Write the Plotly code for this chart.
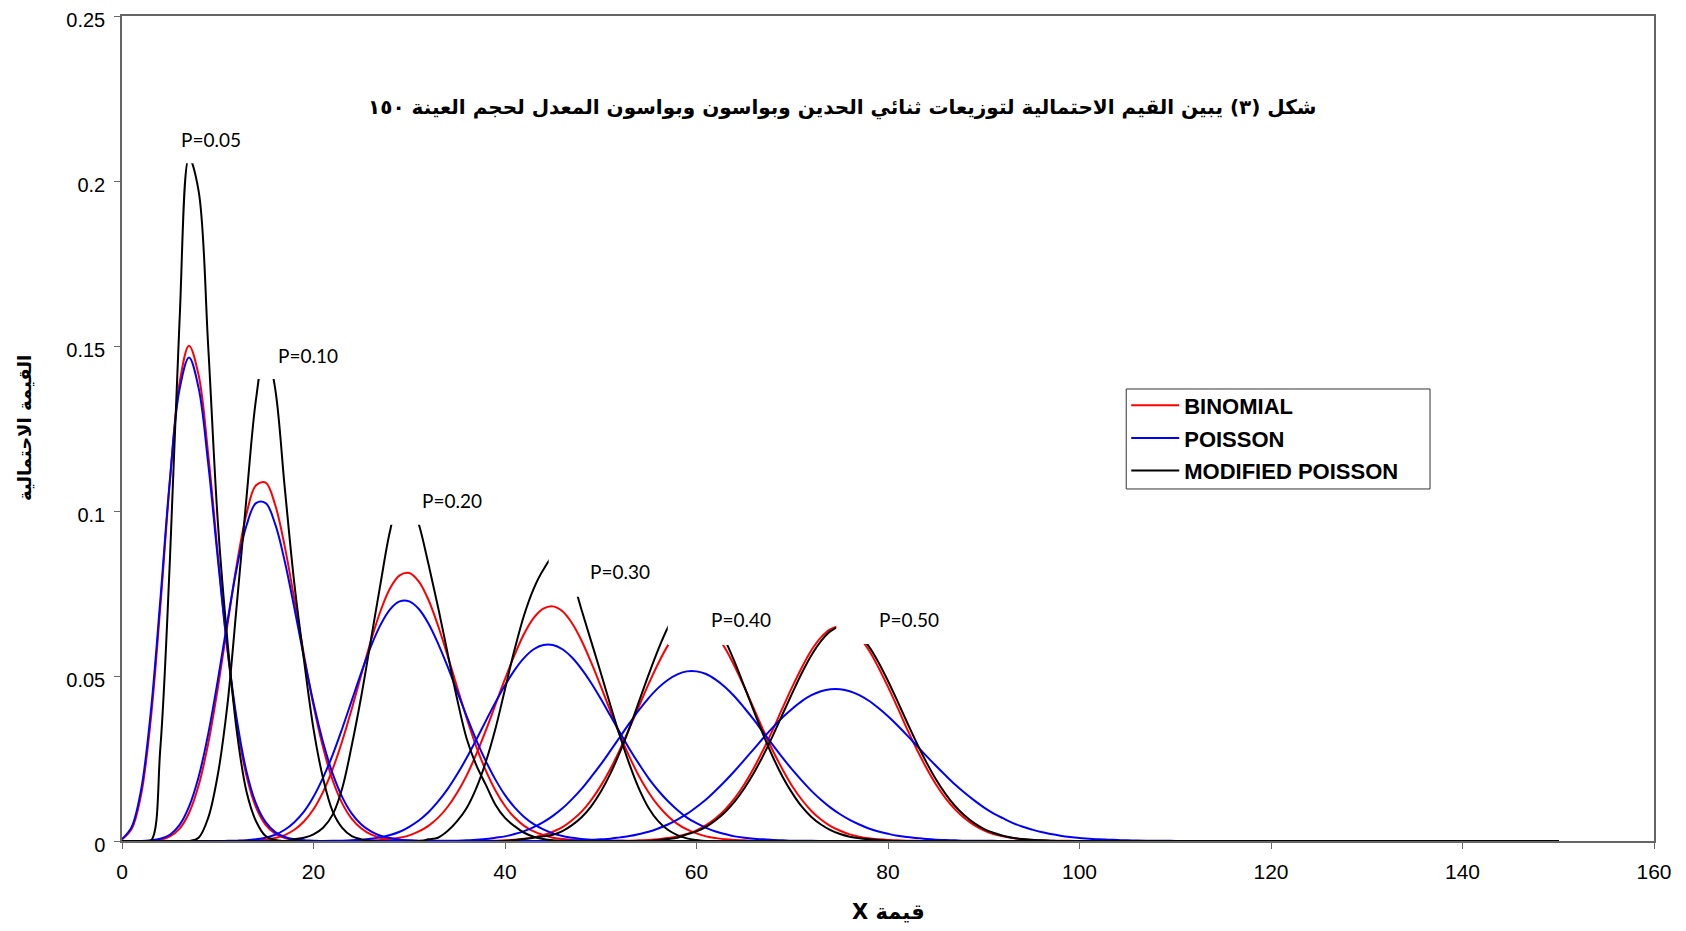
import plotly.graph_objects as go

X_MAX = 150
P_LABELS = ["P=0.05", "P=0.10", "P=0.20", "P=0.30", "P=0.40", "P=0.50"]
LABEL_X = [9.3, 19.4, 34.5, 52.0, 64.6, 82.2]
LABEL_Y = [0.2125, 0.147, 0.1033, 0.0818, 0.0671, 0.0671]
# white text boxes of the labels, which hide the tops of some curves
BOX_X0 = [6.0, 13.5, 27.0, 44.56, 57.0, 74.6]
BOX_X1 = [12.6, 23.0, 38.0, 56.0, 68.0, 88.0]
BOX_Y0 = [0.2054, 0.140, 0.0958, 0.074, 0.0594, 0.0597]
BOX_Y1 = [0.222, 0.155, 0.111, 0.089, 0.074, 0.074]

# ---- BINOMIAL (first x of each list, then one value per integer x) ----
BIN_START = [0, 2, 12, 23, 36, 48]
BIN_005 = [0.0005, 0.0036, 0.0141, 0.0367, 0.0709, 0.1090, 0.1386, 0.1501, 0.1412, 0.1173,
           0.0870, 0.0583, 0.0355, 0.0198, 0.0102, 0.0049, 0.0022, 0.0009, 0.0004, 0.0001, 0.0]
BIN_010 = [0.00002, 0.0001, 0.0004, 0.0014, 0.0037, 0.0085, 0.0168, 0.0295, 0.0462, 0.0653,
           0.0840, 0.0991, 0.1078, 0.1086, 0.1018, 0.0892, 0.0732, 0.0565, 0.0411, 0.0283,
           0.0184, 0.0114, 0.0067, 0.0038, 0.0020, 0.0010, 0.0005, 0.0002, 0.0001, 0.0]
BIN_020 = [0.00003, 0.0001, 0.0002, 0.0004, 0.0009, 0.0018, 0.0034, 0.0059, 0.0096, 0.0149,
           0.0218, 0.0303, 0.0401, 0.0505, 0.0607, 0.0697, 0.0766, 0.0805, 0.0812, 0.0786,
           0.0731, 0.0653, 0.0562, 0.0466, 0.0372, 0.0286, 0.0213, 0.0153, 0.0106, 0.0071,
           0.0046, 0.0029, 0.0018, 0.0010, 0.0006, 0.0003, 0.0002, 0.0001, 0.0]
BIN_030 = [0.00002, 0.00004, 0.0001, 0.0002, 0.0003, 0.0006, 0.0010, 0.0017, 0.0029, 0.0046,
           0.0070, 0.0103, 0.0146, 0.0199, 0.0263, 0.0335, 0.0413, 0.0491, 0.0564, 0.0628,
           0.0676, 0.0704, 0.0711, 0.0696, 0.0660, 0.0607, 0.0541, 0.0469, 0.0394, 0.0321,
           0.0255, 0.0196, 0.0147, 0.0107, 0.0076, 0.0052, 0.0035, 0.0023, 0.0014, 0.0009,
           0.0005, 0.0003, 0.0002, 0.0001, 0.00005, 0.0]
BIN_040 = [0.00002, 0.00004, 0.00006, 0.0001, 0.0002, 0.0004, 0.0007, 0.0011, 0.0018, 0.0028,
           0.0042, 0.0063, 0.0089, 0.0124, 0.0167, 0.0218, 0.0277, 0.0342, 0.0409, 0.0476,
           0.0538, 0.0592, 0.0633, 0.0658, 0.0665, 0.0654, 0.0626, 0.0583, 0.0528, 0.0466,
           0.0400, 0.0334, 0.0272, 0.0216, 0.0166, 0.0125, 0.0091, 0.0065, 0.0045, 0.0031,
           0.0020, 0.0013, 0.0008, 0.0005, 0.0003, 0.0002, 0.0001, 0.00005, 0.0]
BIN_050 = [0.00001, 0.00001, 0.00002, 0.00004, 0.00006, 0.0001, 0.0002, 0.0003, 0.0005, 0.0009,
           0.0014, 0.0021, 0.0032, 0.0048, 0.0069, 0.0096, 0.0130, 0.0172, 0.0222, 0.0278,
           0.0339, 0.0404, 0.0467, 0.0526, 0.0578, 0.0617, 0.0642, 0.0651, 0.0642, 0.0617,
           0.0578, 0.0526, 0.0467, 0.0404, 0.0339, 0.0278, 0.0222, 0.0172, 0.0130, 0.0096,
           0.0069, 0.0048, 0.0032, 0.0021, 0.0014, 0.0009, 0.0005, 0.0003, 0.0002, 0.0001,
           0.00006, 0.00004, 0.00002, 0.00001, 0.0]

# ---- POISSON ----
POI_START = [0, 2, 10, 19, 30, 40]
POI_005 = [0.0006, 0.0042, 0.0156, 0.0389, 0.0729, 0.1094, 0.1367, 0.1465, 0.1373, 0.1144,
           0.0858, 0.0585, 0.0366, 0.0211, 0.0113, 0.0057, 0.0027, 0.0012, 0.0005, 0.0002,
           0.0001, 0.0]
POI_010 = [0.0, 0.0002, 0.0007, 0.0019, 0.0048, 0.0104, 0.0194, 0.0324, 0.0486, 0.0663,
           0.0829, 0.0956, 0.1024, 0.1024, 0.0960, 0.0847, 0.0706, 0.0557, 0.0418, 0.0299,
           0.0204, 0.0133, 0.0083, 0.0050, 0.0029, 0.0016, 0.0009, 0.0004, 0.0002, 0.0001, 0.0]
POI_020 = [0.0, 0.00004, 0.0001, 0.0002, 0.0005, 0.0010, 0.0019, 0.0034, 0.0057, 0.0089,
           0.0134, 0.0192, 0.0261, 0.0341, 0.0426, 0.0511, 0.0590, 0.0655, 0.0702, 0.0726,
           0.0726, 0.0703, 0.0659, 0.0599, 0.0529, 0.0453, 0.0378, 0.0306, 0.0242, 0.0186,
           0.0139, 0.0102, 0.0073, 0.0051, 0.0035, 0.0023, 0.0015, 0.0010, 0.0006, 0.0004,
           0.0002, 0.0001, 0.0001, 0.0]
POI_030 = [0.0, 0.00001, 0.00003, 0.00006, 0.0001, 0.0002, 0.0004, 0.0007, 0.0011, 0.0018,
           0.0028, 0.0043, 0.0062, 0.0087, 0.0119, 0.0157, 0.0202, 0.0252, 0.0307, 0.0364,
           0.0420, 0.0472, 0.0518, 0.0555, 0.0581, 0.0594, 0.0594, 0.0581, 0.0556, 0.0521,
           0.0479, 0.0431, 0.0380, 0.0329, 0.0279, 0.0233, 0.0190, 0.0153, 0.0121, 0.0094,
           0.0071, 0.0054, 0.0040, 0.0029, 0.0021, 0.0014, 0.0010, 0.0007, 0.0005, 0.0003,
           0.0002, 0.0001, 0.0001, 0.00005, 0.00003, 0.00001, 0.0]
POI_040 = [0.00001, 0.00002, 0.00003, 0.00005, 0.00008, 0.0001, 0.0002, 0.0004, 0.0006, 0.0010,
           0.0014, 0.0021, 0.0030, 0.0042, 0.0057, 0.0076, 0.0099, 0.0127, 0.0158, 0.0194,
           0.0232, 0.0273, 0.0315, 0.0357, 0.0397, 0.0433, 0.0464, 0.0488, 0.0505, 0.0514,
           0.0514, 0.0506, 0.0489, 0.0466, 0.0437, 0.0403, 0.0367, 0.0328, 0.0290, 0.0252,
           0.0216, 0.0183, 0.0152, 0.0125, 0.0101, 0.0081, 0.0064, 0.0050, 0.0038, 0.0029,
           0.0022, 0.0016, 0.0012, 0.0009, 0.0006, 0.0004, 0.0003, 0.0002, 0.0001, 0.0001,
           0.00006, 0.00004, 0.00002, 0.0]
POI_050 = [0.0, 0.00001, 0.00002, 0.00003, 0.00004, 0.00005, 0.0001, 0.00015, 0.0002, 0.0003,
           0.0005, 0.0007, 0.0011, 0.0015, 0.0021, 0.0028, 0.0038, 0.0050, 0.0065, 0.0082,
           0.0103, 0.0126, 0.0153, 0.0182, 0.0213, 0.0246, 0.0279, 0.0313, 0.0345, 0.0375,
           0.0401, 0.0424, 0.0442, 0.0454, 0.0460, 0.0460, 0.0454, 0.0442, 0.0425, 0.0403,
           0.0378, 0.0350, 0.0320, 0.0289, 0.0258, 0.0228, 0.0199, 0.0171, 0.0146, 0.0123,
           0.0102, 0.0084, 0.0069, 0.0055, 0.0044, 0.0035, 0.0027, 0.0021, 0.0016, 0.0012,
           0.0009, 0.0007, 0.0005, 0.0004, 0.0003, 0.0002, 0.00014, 0.0001, 0.00007, 0.00005,
           0.00003, 0.00002, 0.00001, 0.0]

# ---- MODIFIED POISSON ----
MOD_START = [2, 7, 17, 31, 40, 55]
MOD_005 = [0.0, 0.0, 0.028, 0.085, 0.157, 0.207, 0.197, 0.150, 0.097, 0.061,
           0.033, 0.015, 0.006, 0.0015, 0.0003, 0.0]
MOD_010 = [0.0, 0.001, 0.007, 0.020, 0.041, 0.072, 0.104, 0.134, 0.150, 0.137,
           0.107, 0.078, 0.055, 0.034, 0.019, 0.009, 0.004, 0.0015, 0.0005, 0.0]
MOD_020 = [0.0, 0.0005, 0.001, 0.002, 0.004, 0.008, 0.016, 0.029, 0.044, 0.061,
           0.078, 0.094, 0.104, 0.104, 0.096, 0.084, 0.071, 0.057, 0.043, 0.031,
           0.023, 0.017, 0.011, 0.007, 0.0045, 0.0025, 0.0013, 0.0006, 0.0002, 0.0]
MOD_030 = [0.0, 0.0005, 0.001, 0.003, 0.006, 0.010, 0.016, 0.024, 0.034, 0.046,
           0.058, 0.0685, 0.0765, 0.0822, 0.0860, 0.0855, 0.0795, 0.0700, 0.0605, 0.0510,
           0.0412, 0.0318, 0.0232, 0.0158, 0.0100, 0.0060, 0.0034, 0.0018, 0.0008, 0.0003, 0.0]
MOD_040 = [0.0, 0.0003, 0.0006, 0.0010, 0.0014, 0.0019, 0.0030, 0.0048, 0.0072, 0.0105,
           0.0149, 0.0204, 0.0269, 0.0343, 0.0423, 0.0504, 0.0580, 0.0646, 0.0694, 0.0721,
           0.0723, 0.0701, 0.0663, 0.0608, 0.0541, 0.0468, 0.0393, 0.0320, 0.0253, 0.0194,
           0.0145, 0.0104, 0.0073, 0.0050, 0.0033, 0.0021, 0.0013, 0.0008, 0.0005, 0.0003,
           0.0001, 0.0]
MOD_050 = [0.0, 0.0003, 0.0006, 0.0010, 0.0020, 0.0029, 0.0043, 0.0063, 0.0088, 0.0120,
           0.0160, 0.0207, 0.0261, 0.0321, 0.0385, 0.0448, 0.0509, 0.0563, 0.0606, 0.0636,
           0.0649, 0.0646, 0.0625, 0.0590, 0.0542, 0.0485, 0.0423, 0.0359, 0.0297, 0.0239,
           0.0187, 0.0143, 0.0106, 0.0077, 0.0054, 0.0037, 0.0025, 0.0016, 0.0010, 0.0006,
           0.0004, 0.0002, 0.0001, 0.0]

BINOMIAL = [BIN_005, BIN_010, BIN_020, BIN_030, BIN_040, BIN_050]
POISSON = [POI_005, POI_010, POI_020, POI_030, POI_040, POI_050]
MODIFIED = [MOD_005, MOD_010, MOD_020, MOD_030, MOD_040, MOD_050]

SERIES = [
    ("BINOMIAL", "#FF0000", BIN_START, BINOMIAL),
    ("POISSON", "#0000FF", POI_START, POISSON),
    ("MODIFIED POISSON", "#000000", MOD_START, MODIFIED),
]


def build(start, vals):
    xs = list(range(start, start + len(vals)))
    ys = list(vals)
    if xs[0] > 0:
        xs = [0] + xs
        ys = [0.0] + ys
    if xs[-1] < X_MAX:
        xs = xs + [X_MAX]
        ys = ys + [0.0]
    return xs, ys


fig = go.Figure()
for name, color, starts, curves in SERIES:
    for i, (s, vals) in enumerate(zip(starts, curves)):
        xs, ys = build(s, vals)
        fig.add_trace(go.Scatter(
            x=xs, y=ys, mode="lines", name="<b>" + name + "</b>", legendgroup=name,
            showlegend=(i == 0),
            line=dict(color=color, width=2, shape="spline", smoothing=1.0),
        ))

shapes = []
for x0, x1, y0, y1 in zip(BOX_X0, BOX_X1, BOX_Y0, BOX_Y1):
    shapes.append(dict(type="rect", xref="x", yref="y", x0=x0, x1=x1, y0=y0, y1=y1,
                       fillcolor="white", line=dict(width=0), layer="above"))
# legend frame
shapes.append(dict(type="rect", xref="paper", yref="paper", x0=0.6555, x1=0.8538,
                   y0=0.4267, y1=0.5479, fillcolor="white",
                   line=dict(color="#333333", width=1), layer="above"))

annotations = []
for lab, lx, ly in zip(P_LABELS, LABEL_X, LABEL_Y):
    annotations.append(dict(text=lab, x=lx, y=ly, xref="x", yref="y", showarrow=False,
                            xanchor="center", yanchor="middle",
                            font=dict(family="Lato", size=19, color="black")))

TITLE = "شكل (٣) يبين القيم الاحتمالية لتوزيعات ثنائي الحدين وبواسون وبواسون المعدل لحجم العينة ١٥٠"
annotations.append(dict(text="<b>" + TITLE + "</b>", x=0.4702, y=0.889, xref="paper", yref="paper",
                        xanchor="center", yanchor="middle", showarrow=False,
                        font=dict(family="DejaVu Sans", size=20, color="black")))
annotations.append(dict(text="<b>X قيمة</b>", x=0.5, y=-0.086, xref="paper", yref="paper",
                        xanchor="center", yanchor="middle", showarrow=False,
                        font=dict(family="DejaVu Sans", size=21, color="black")))
annotations.append(dict(text="<b>القيمة الاحتمالية</b>", x=-0.0636, y=0.5, xref="paper", yref="paper",
                        xanchor="center", yanchor="middle", showarrow=False, textangle=-90,
                        font=dict(family="DejaVu Sans", size=18, color="black")))

# the page has an 8 px body margin: the figure is sized so that it fits the window
fig.update_layout(
    width=1670, height=915,
    margin=dict(l=113.5, r=24, t=8, b=82, autoexpand=False),
    paper_bgcolor="white", plot_bgcolor="white",
    showlegend=True,
    legend=dict(x=0.6555, y=0.5533, xanchor="left", yanchor="top",
                bgcolor="rgba(0,0,0,0)", borderwidth=0,
                tracegroupgap=1,
                font=dict(family="Liberation Sans", size=22, color="black"),
                itemwidth=48),
    shapes=shapes,
    annotations=annotations,
    xaxis=dict(range=[0, 160], tickmode="array", tickvals=[0, 20, 40, 60, 80, 100, 120, 140, 160],
               ticktext=["0", "20", "40", "60", "80", "100", "120", "140", "160"],
               ticks="outside", ticklen=6, tickcolor="#666666", ticklabelstandoff=5,
               automargin=False,
               showline=True, linecolor="#666666", linewidth=1.5, mirror=True,
               showgrid=False, zeroline=False,
               tickfont=dict(family="Liberation Sans", size=21, color="black")),
    yaxis=dict(range=[0, 0.25], tickmode="array", tickvals=[0, 0.05, 0.1, 0.15, 0.2, 0.25],
               ticktext=["0", "0.05", "0.1", "0.15", "0.2", "0.25"],
               ticks="outside", ticklen=6, tickcolor="#666666", ticklabelstandoff=5,
               ticklabelshift=4,
               ticklabeloverflow="allow", automargin=False,
               showline=True, linecolor="#666666", linewidth=1.5, mirror=True,
               showgrid=False, zeroline=False,
               tickfont=dict(family="Liberation Sans", size=20, color="black")),
)

fig.write_html("out.html")
